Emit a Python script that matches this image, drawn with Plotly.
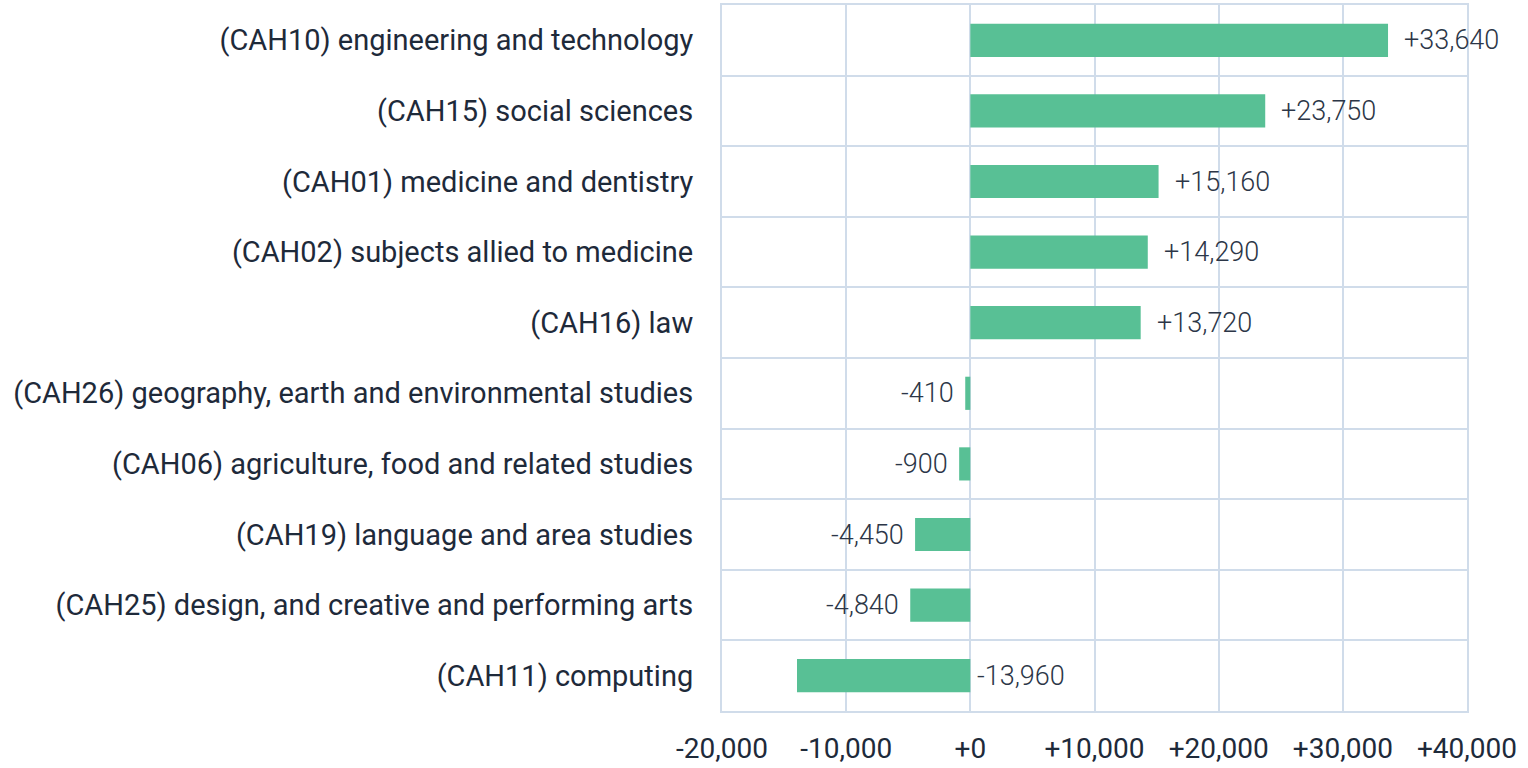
import plotly.graph_objects as go

categories = [
    "(CAH10) engineering and technology",
    "(CAH15) social sciences",
    "(CAH01) medicine and dentistry",
    "(CAH02) subjects allied to medicine",
    "(CAH16) law",
    "(CAH26) geography, earth and environmental studies",
    "(CAH06) agriculture, food and related studies",
    "(CAH19) language and area studies",
    "(CAH25) design, and creative and performing arts",
    "(CAH11) computing",
]
changes = [33640, 23750, 15160, 14290, 13720, -410, -900, -4450, -4840, -13960]
x_ticks = [-20000, -10000, 0, 10000, 20000, 30000, 40000]
x_tick_labels = ["-20,000", "-10,000", "+0", "+10,000", "+20,000", "+30,000", "+40,000"]

BAR = "#58c095"
GRID = "#d0dcea"
INK = "#1e2a3a"
LABEL = "#2c3647"

fig = go.Figure()
fig.add_trace(go.Bar(
    y=categories, x=changes, orientation="h",
    marker=dict(color=BAR, line=dict(width=0)),
    width=0.47, hoverinfo="skip",
))

annotations = []
for cat, v in zip(categories, changes):
    # labels go to the outside end of the bar; if a negative label doesn't
    # fit to the left within the axis, it goes right of zero instead
    if v >= 0:
        ax, anchor, shift = v, "left", 14
    elif v - 8000 > x_ticks[0]:
        ax, anchor, shift = v, "right", -9
    else:
        ax, anchor, shift = 0, "left", 5
    annotations.append(dict(
        x=ax, y=cat, xref="x", yref="y", text=f"{v:+,}",
        xanchor=anchor, yanchor="middle", xshift=shift, showarrow=False,
        font=dict(family="Roboto", size=27, color=LABEL, weight=300),
    ))

fig.update_layout(
    width=1528, height=768,
    margin=dict(l=722, r=61, t=5, b=57, autoexpand=False),
    paper_bgcolor="white", plot_bgcolor="white",
    showlegend=False,
    font=dict(family="Roboto", color=INK),
    annotations=annotations,
    bargap=0.5,
)
fig.update_xaxes(
    range=[x_ticks[0], x_ticks[-1]],
    tickvals=x_ticks, ticktext=x_tick_labels,
    showgrid=True, gridcolor=GRID, gridwidth=2,
    zeroline=False, automargin=False,
    showline=True, linecolor=GRID, linewidth=2, mirror=True,
    ticks="", ticklabelstandoff=11,
    tickfont=dict(family="Roboto", size=28, color=INK),
)
fig.update_yaxes(
    type="category", categoryorder="array", categoryarray=categories,
    autorange="reversed", automargin=False,
    tickson="boundaries",
    showgrid=True, gridcolor=GRID, gridwidth=2,
    showline=True, linecolor=GRID, linewidth=2, mirror=True,
    ticks="", ticklabelstandoff=21,
    tickfont=dict(family="Roboto", size=29, color=INK),
)

fig.write_html(
    "out.html",
    config={"displayModeBar": False},
    post_script="document.body.style.margin='0';document.body.style.overflow='hidden';",
)
